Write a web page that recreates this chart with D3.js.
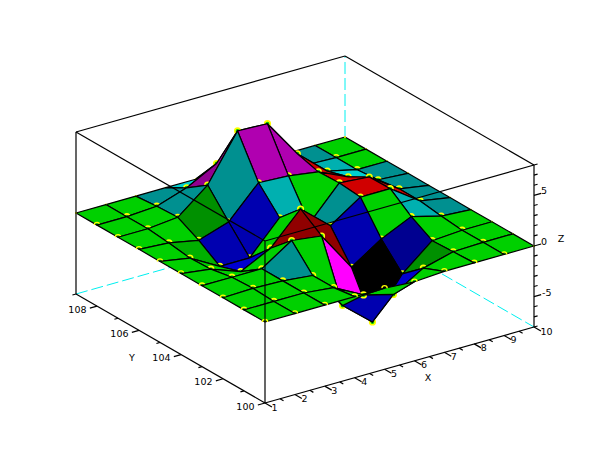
<!DOCTYPE html>
<html>
<head>
<meta charset="utf-8">
<script src="https://cdn.jsdelivr.net/npm/d3@7/dist/d3.min.js"></script>
<style>
html,body{margin:0;padding:0;background:#fff;}
svg{display:block;}
text{font-family:"DejaVu Sans",sans-serif;font-size:9.5px;fill:#000;}
</style>
</head>
<body>
<svg id="chart" width="610" height="460"></svg>
<script>
// Grid axes
const xValues = [1,2,3,4,5,6,7,8,9,10];
const yValues = [100,101,102,103,104,105,106,107,108,109];
const zDomain = [-8,8];

// Surface height: zValues[xIndex][yIndex]
const zValues = [
  [0,0,0,0,0,0,0,0,0,0],
  [0,0,0.1,0,-0.4,-0.5,-0.2,0,0,0],
  [0,0,0,0,-1.47,-2.15,-0.78,0.3,0.2,0],
  [0,-0.3,-0.3,1.96,0,-2.15,0.2,2.65,1.18,0],
  [0,-1.86,-4.1,1.57,3.04,0.98,3.24,7.16,2.75,0],
  [-0.2,-2.64,-6.56,-2.35,0.55,-0.4,3.09,7.04,0.5,0],
  [0,-0.88,-2.64,-0.4,2.55,2.75,2.65,3.24,0.2,0],
  [0,-0.1,-0.2,0.98,2.55,2.5,1.32,0.69,0.1,0],
  [0,0,0,0.2,0.5,0.5,0.2,0,0,0],
  [0,0,0,0,0,0,0,0,0,0]
];

// Facet colour number: facetColours[xIndex][yIndex]
const facetColours = [
  [15,15,15,15,15,15,15,15,15],
  [15,15,15,15,15,14,15,15,15],
  [15,15,16,15,11,10,13,16,16],
  [15,15,15,19,15,10,16,22,18],
  [15,10,6,19,15,17,23,16,16],
  [15,11,1,10,16,15,23,16,16],
  [15,13,9,15,21,21,21,21,16],
  [15,15,15,17,21,21,18,17,16],
  [15,15,15,16,16,16,16,15,15]
];

// Colour map, numbered from 1
const colourMap = ["#000000","#0000ff","#00ff00","#00ffff","#ff0000","#ff00ff","#ffff00","#ffffff",
  "#000090","#0000b0","#0000d0","#87ceff","#009000","#00b000","#00d000","#009090","#00b0b0","#00d0d0",
  "#900000","#b00000","#d00000","#900090","#b000b0","#d000d0"];

const xMajor = [1,2,3,4,5,6,7,8,9,10];
const xMinor = [1.5,2.5,3.5,4.5,5.5,6.5,7.5,8.5,9.5];
const yMajor = [100,102,104,106,108];
const yMinor = [101,103,105,107,109];
const zMajor = [-5,0,5];
const zMinor = [-8,-7,-6,-4,-3,-2,-1,1,2,3,4,6,7,8];

const svg = d3.select("#chart");

// Box geometry comes from the scales: each axis runs from 0 to 1 of its box edge
const fx = d3.scaleLinear().domain([1,10]).range([0,1]);
const fy = d3.scaleLinear().domain([100,109]).range([0,1]);
const fz = d3.scaleLinear().domain(zDomain).range([0,1]);
const sxX = d3.scaleLinear().domain([0,1]).range([0,269]);
const sxY = d3.scaleLinear().domain([0,1]).range([0,-189]);
const syX = d3.scaleLinear().domain([0,1]).range([0,-76]);
const syY = d3.scaleLinear().domain([0,1]).range([0,-109]);
const szY = d3.scaleLinear().domain([0,1]).range([0,-162]);
const originX = 265, originY = 403;

function project(x,y,z){
  return [originX + sxX(fx(x)) + sxY(fy(y)),
          originY + syX(fx(x)) + syY(fy(y)) + szY(fz(z))];
}

const colour = d3.scaleOrdinal().domain(d3.range(1,colourMap.length+1)).range(colourMap);
const xMin=1,xMax=10,yMin=100,yMax=109,zMin=-8,zMax=8;

function seg(p,q,opts){
  const o = opts||{};
  svg.append("line").attr("x1",p[0]).attr("y1",p[1]).attr("x2",q[0]).attr("y2",q[1])
    .attr("stroke",o.stroke||"#000").attr("stroke-width",o.w||1.2)
    .attr("stroke-dasharray",o.dash||null);
}

// Hidden box edges
const dashed = {stroke:"#00f0f0",dash:"12 4",w:1};
seg(project(xMin,yMax,zMin),project(xMax,yMax,zMin),dashed);
seg(project(xMax,yMax,zMin),project(xMax,yMin,zMin),dashed);
seg(project(xMax,yMax,zMin),project(xMax,yMax,zMax),dashed);
// Back top edges
seg(project(xMin,yMax,zMax),project(xMax,yMax,zMax));
seg(project(xMax,yMax,zMax),project(xMax,yMin,zMax));

// Facets from far to near: each facet marks its nearest vertex, later facets cover part of the mark
const surface = svg.append("g");
const halfRing = d3.arc().innerRadius(2).outerRadius(3.3).startAngle(-Math.PI/2).endAngle(Math.PI/2);
const vertex = (a,b)=>project(xValues[a],yValues[b],zValues[a][b]);

function mark(a,b){
  const p = vertex(a,b);
  const backEdge = a===xValues.length-1 || b===yValues.length-1;
  const frontEdge = a===0 || b===0;
  if(backEdge){
    surface.append("circle").attr("cx",p[0]).attr("cy",p[1]).attr("r",1)
      .attr("fill","#ffff00");
  } else if(frontEdge){
    surface.append("path").attr("d",halfRing()).attr("transform","translate("+p[0]+","+p[1]+")")
      .attr("fill","#ffff00");
  } else {
    surface.append("circle").attr("cx",p[0]).attr("cy",p[1]).attr("r",2.8)
      .attr("fill","#00d000").attr("stroke","#ffff00").attr("stroke-width",1.6);
  }
}

for(let i=xValues.length-2;i>=0;i--){
  for(let j=yValues.length-2;j>=0;j--){
    const corners = [[i,j],[i+1,j],[i+1,j+1],[i,j+1]].map(([a,b])=>vertex(a,b));
    surface.append("polygon").attr("points",corners.map(p=>p.join(",")).join(" "))
      .attr("fill",colour(facetColours[i][j])).attr("stroke","#000").attr("stroke-width",1.2)
      .attr("stroke-linejoin","round");
    mark(i,j);
    if(j===yValues.length-2) mark(i,j+1);
    if(i===xValues.length-2) mark(i+1,j);
    if(i===xValues.length-2 && j===yValues.length-2) mark(i+1,j+1);
  }
}

// Front box edges, over the surface
seg(project(xMin,yMax,zMax),project(xMin,yMin,zMax));
seg(project(xMin,yMin,zMax),project(xMax,yMin,zMax));
seg(project(xMin,yMax,zMin),project(xMin,yMax,zMax));
seg(project(xMax,yMin,zMin),project(xMax,yMin,zMax));
seg(project(xMin,yMin,zMin),project(xMin,yMin,zMax));
seg(project(xMin,yMin,zMin),project(xMin,yMax,zMin));
seg(project(xMin,yMin,zMin),project(xMax,yMin,zMin));

// Ticks: each points along a box direction
function xTick(v,len){
  const a=project(v,yMin,zMin);
  const b=project(v,yMin-len,zMin);
  seg(a,b);
}
function yTick(v,len){
  const a=project(xMin,v,zMin);
  const b=project(xMin-len,v,zMin);
  seg(a,b);
}
function zTick(v,len){
  const a=project(xMax,yMin,v);
  const b=project(xMax+len,yMin,v);
  seg(a,b);
}
xMajor.forEach(v=>xTick(v,0.33)); xMinor.forEach(v=>xTick(v,0.17));
yMajor.forEach(v=>yTick(v,0.24)); yMinor.forEach(v=>yTick(v,0.12));
zMajor.forEach(v=>zTick(v,0.24)); zMinor.forEach(v=>zTick(v,0.12));

// Tick labels
function label(p,t,anchor){
  svg.append("text").attr("x",p[0]).attr("y",p[1]).attr("text-anchor",anchor).text(t);
}
xMajor.forEach(v=>{const p=project(v,yMin,zMin);label([p[0]+6.5,p[1]+7.5],String(v),"start");});
yMajor.forEach(v=>{const p=project(xMin,v,zMin);label([p[0]-10.5,p[1]+6.5],String(v),"end");});
zMajor.forEach(v=>{const p=project(xMax,yMin,v);label([p[0]+(v<0?8:7),p[1]-1],String(v),"start");});

// Axis titles
const titles = [["X",428,381],["Y",132,361],["Z",561,242]];
titles.forEach(t=>{
  svg.append("text").attr("x",t[1]).attr("y",t[2]).attr("text-anchor","middle").text(t[0]);
});
</script>
</body>
</html>
